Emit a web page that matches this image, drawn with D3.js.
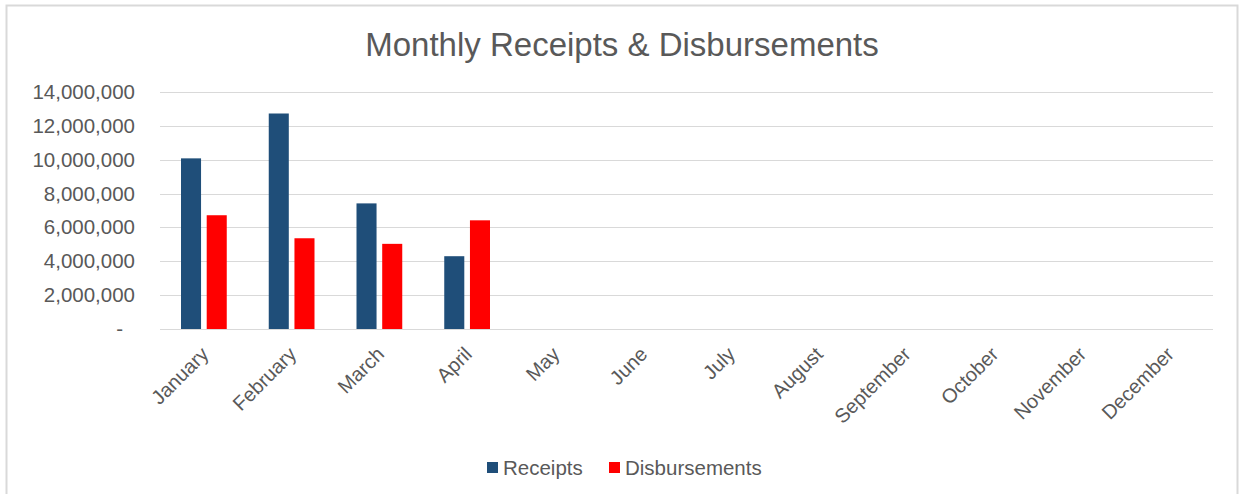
<!DOCTYPE html>
<html>
<head>
<meta charset="utf-8">
<script src="https://cdn.jsdelivr.net/npm/d3@7"></script>
<style>
  body { margin: 0; background: #fff; }
  svg { display: block; font-family: "Liberation Sans", Arial, sans-serif; }
</style>
</head>
<body>
<div id="main"></div>
<script>
const months = ["January", "February", "March", "April", "May", "June",
  "July", "August", "September", "October", "November", "December"];
const receipts = [10080000, 12730000, 7420000, 4300000];
const disbursements = [6720000, 5360000, 5030000, 6420000];
const yTicks = [0, 2000000, 4000000, 6000000, 8000000, 10000000, 12000000, 14000000];
const seriesNames = ["Receipts", "Disbursements"];
const colors = ["#1f4e79", "#ff0000"];

const width = 1239;
const height = 494;
const plotLeft = 160, plotRight = 1213, plotTop = 92, plotBottom = 329;
const textColor = "#595959";

const svg = d3.select("#main").append("svg")
  .attr("width", width).attr("height", height);

// chart frame
svg.append("rect")
  .attr("x", 6.5).attr("y", 5.5)
  .attr("width", 1231).attr("height", 500)
  .attr("fill", "none").attr("stroke", "#d9d9d9").attr("stroke-width", 2);

svg.append("text")
  .attr("x", 622).attr("y", 56)
  .attr("text-anchor", "middle")
  .attr("font-size", 33)
  .attr("fill", textColor)
  .text("Monthly Receipts & Disbursements");

const x = d3.scaleBand().domain(months).range([plotLeft, plotRight]);
const x1 = d3.scaleBand().domain(seriesNames).range([21, x.bandwidth() - 21]).paddingInner(0.22);
const y = d3.scaleLinear().domain([0, 14000000]).range([plotBottom, plotTop]);

// gridlines
svg.append("g")
  .selectAll("line")
  .data(yTicks)
  .join("line")
  .attr("x1", plotLeft).attr("x2", plotRight)
  .attr("y1", (d) => Math.round(y(d)) + 0.5)
  .attr("y2", (d) => Math.round(y(d)) + 0.5)
  .attr("stroke", "#d9d9d9").attr("stroke-width", 1);

// y axis labels
const fmt = d3.format(",");
const yAxis = svg.append("g")
  .attr("transform", `translate(135, 0)`)
  .call(d3.axisLeft(y).tickValues(yTicks).tickSize(0).tickPadding(0)
    .tickFormat((d) => (d === 0 ? "-" : fmt(d))));
yAxis.select(".domain").remove();
yAxis.selectAll("text")
  .attr("font-size", 20.5)
  .attr("fill", textColor)
  .attr("font-family", "Liberation Sans, Arial, sans-serif")
  .attr("dx", (d) => (d === 0 ? -12 : 0));

// bars
const groups = svg.append("g")
  .selectAll("g")
  .data(months)
  .join("g")
  .attr("transform", (d) => `translate(${x(d)},0)`);

groups.selectAll("rect")
  .data((d, i) => [
    { key: "Receipts", value: receipts[i] },
    { key: "Disbursements", value: disbursements[i] }
  ].filter((e) => e.value !== undefined))
  .join("rect")
  .attr("x", (d) => x1(d.key))
  .attr("width", x1.bandwidth())
  .attr("y", (d) => y(d.value))
  .attr("height", (d) => y(0) - y(d.value))
  .attr("fill", (d) => colors[seriesNames.indexOf(d.key)]);

// x axis
const xAxis = svg.append("g")
  .attr("transform", `translate(0, ${Math.round(plotBottom) + 0.5})`)
  .call(d3.axisBottom(x).tickSize(0).tickPadding(0));
xAxis.select(".domain").attr("stroke", "#d9d9d9").attr("d", `M${plotLeft},0H${plotRight}`);
xAxis.selectAll("text")
  .attr("font-size", 20)
  .attr("fill", textColor)
  .attr("font-family", "Liberation Sans, Arial, sans-serif")
  .attr("text-anchor", "end")
  .attr("dy", 0)
  .attr("transform", "translate(6, 26) rotate(-45)");

// legend
const legend = svg.append("g");
const legendX = [487, 609];
seriesNames.forEach((name, i) => {
  legend.append("rect")
    .attr("x", legendX[i]).attr("y", 462)
    .attr("width", 11).attr("height", 11)
    .attr("fill", colors[i]);
  legend.append("text")
    .attr("x", legendX[i] + 16).attr("y", 475)
    .attr("font-size", 20.5)
    .attr("fill", textColor)
    .text(name);
});
</script>
</body>
</html>
